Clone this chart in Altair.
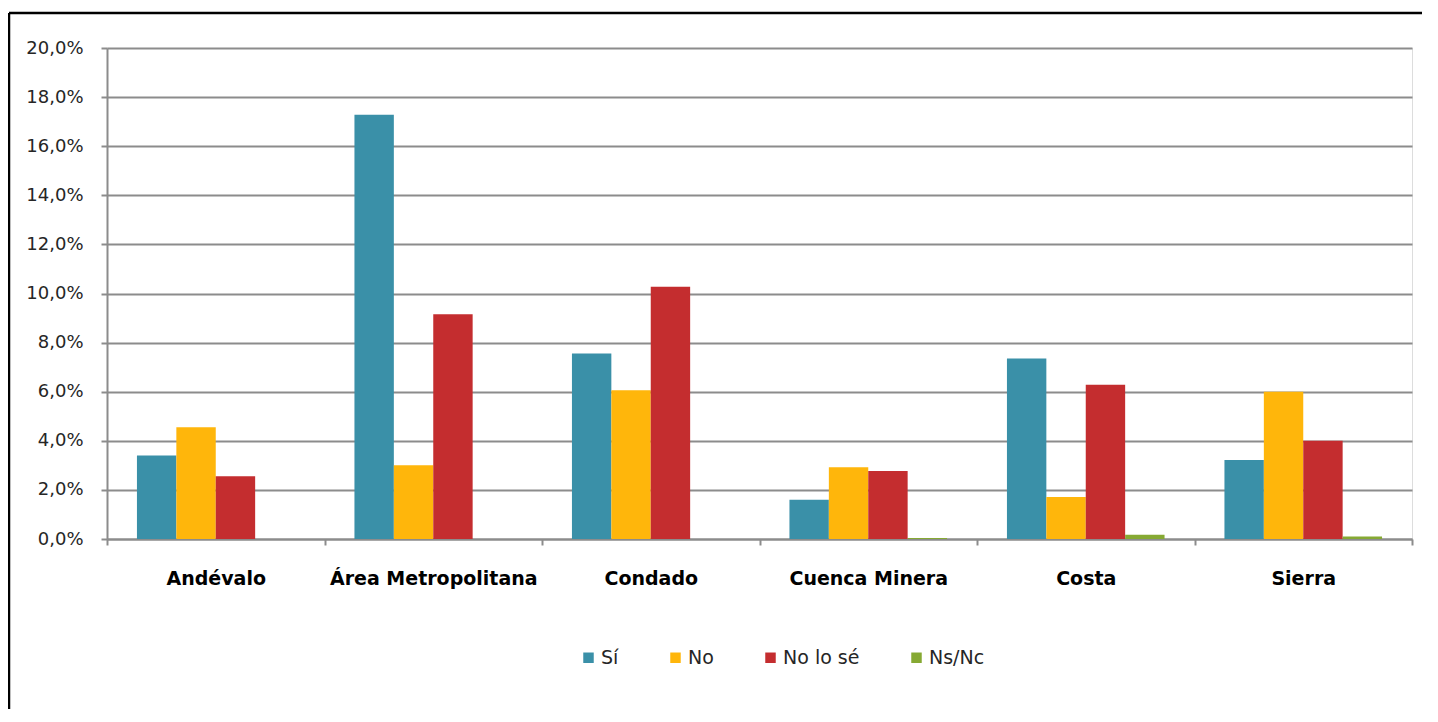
import altair as alt
import pandas as pd

regions = ["Andévalo", "Área Metropolitana", "Condado", "Cuenca Minera", "Costa", "Sierra"]
series = ["Sí", "No", "No lo sé", "Ns/Nc"]
si = [3.40, 17.28, 7.56, 1.60, 7.35, 3.22]
no = [4.55, 3.00, 6.06, 2.92, 1.71, 6.00]
no_lo_se = [2.56, 9.15, 10.28, 2.77, 6.28, 4.00]
ns_nc = [0.0, 0.0, 0.0, 0.04, 0.17, 0.10]
y_ticks = [0, 2, 4, 6, 8, 10, 12, 14, 16, 18, 20]
colors = ["#3A90A8", "#FFB60B", "#C42D2F", "#86A933"]

rows = []
for s, vals in zip(series, [si, no, no_lo_se, ns_nc]):
    for r, v in zip(regions, vals):
        rows.append({"region": r, "serie": s, "valor": v})
df = pd.DataFrame(rows)

W, H = 1305, 491
FONT = "DejaVu Sans"
GRID = "#8c8c8c"

bars = alt.Chart(df).mark_bar().encode(
    x=alt.X(
        "region:N", sort=regions,
        scale=alt.Scale(paddingInner=0, paddingOuter=0),
        axis=alt.Axis(
            title=None, labelAngle=0, grid=False, labelLimit=0,
            domain=True, domainColor=GRID, domainWidth=2,
            ticks=True, tickBand="extent", tickColor=GRID, tickWidth=2, tickSize=6,
            labelFont=FONT, labelFontWeight="bold", labelFontSize=19, labelColor="#000000",
            labelPadding=24,
        ),
    ),
    xOffset=alt.XOffset("serie:N", sort=series,
                        scale=alt.Scale(domain=series, paddingInner=0, paddingOuter=0.76)),
    y=alt.Y(
        "valor:Q",
        scale=alt.Scale(domain=[0, 20], nice=False),
        axis=alt.Axis(
            title=None, values=y_ticks,
            labelExpr="replace(format(datum.value, '.1f'), '.', ',') + '%'",
            grid=True, gridColor=GRID, gridWidth=2,
            domain=True, domainColor=GRID, domainWidth=2,
            ticks=True, tickColor=GRID, tickWidth=2, tickSize=6,
            labelPadding=18, labelFont=FONT, labelFontSize=18, labelColor="#262626",
        ),
    ),
    color=alt.Color(
        "serie:N", sort=series,
        scale=alt.Scale(domain=series, range=colors),
        legend=alt.Legend(
            title=None, orient="none", legendX=472, legendY=600,
            direction="horizontal", columns=4, columnPadding=47,
            symbolType="square", symbolSize=110, symbolStrokeWidth=0,
            labelFont=FONT, labelFontSize=19, labelColor="#262626", labelOffset=3,
        ),
    ),
)

frame_df = pd.DataFrame({"k": [0]})
top_border = alt.Chart(frame_df).mark_rule(color="#000000", strokeWidth=2.5).encode(
    x=alt.value(-98), x2=alt.value(W + 200), y=alt.value(-35)
)
left_border = alt.Chart(frame_df).mark_rule(color="#000000", strokeWidth=2.5).encode(
    x=alt.value(-98), y=alt.value(-35), y2=alt.value(H + 300)
)

chart = alt.layer(bars, top_border, left_border).properties(
    width=W, height=H,
    autosize=alt.AutoSizeParams(type="none"),
    padding={"left": 99, "top": 40, "right": 10, "bottom": 170},
).configure_view(stroke=None).configure(background="white")

chart.save("out.html", embed_options={"renderer": "svg", "actions": False})
